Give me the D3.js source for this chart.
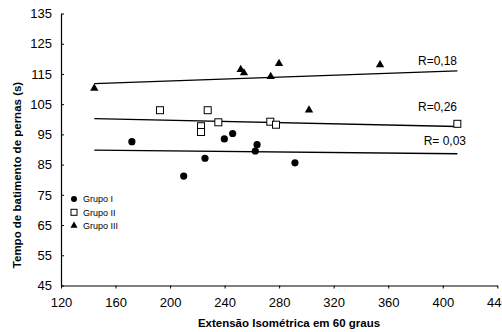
<!DOCTYPE html>
<html>
<head>
<meta charset="utf-8">
<script src="https://cdn.jsdelivr.net/npm/d3@7"></script>
<style>
  html, body { margin: 0; padding: 0; background: #fff; }
  svg text { font-family: Arial, "Liberation Sans", sans-serif; fill: #000; }
</style>
</head>
<body>
<div id="chart"></div>
<script>
// Grupo I (circles)
const grupo1X = [172, 210, 225.6, 239.8, 245.9, 263.8, 262.5, 291.6];
const grupo1Y = [92.6, 81.2, 87.1, 93.5, 95.3, 91.6, 89.5, 85.6];
// Grupo II (squares)
const grupo2X = [192.6, 227.6, 222.7, 222.7, 235.4, 273.5, 277.7, 410.7];
const grupo2Y = [103, 103, 97.7, 95.8, 99, 99.2, 98.2, 98.5];
// Grupo III (triangles)
const grupo3X = [144.4, 251.8, 254.2, 273.8, 279.9, 301.9, 354];
const grupo3Y = [110.4, 116.6, 115.5, 114.3, 118.6, 103.2, 118.2];

// trend lines [x0, y0, x1, y1]
const trend1 = [144.4, 89.8, 410.7, 88.6];
const trend2 = [144.4, 100.2, 410.7, 97.6];
const trend3 = [144.4, 111.8, 410.7, 116.0];
const rLabels = ["R= 0,03", "R=0,26", "R=0,18"];
const rLabelY = [91.6, 102.8, 117.8];

const xTicks = [120, 160, 200, 240, 280, 320, 360, 400, 440];
const yTicks = [45, 55, 65, 75, 85, 95, 105, 115, 125, 135];
const legendNames = ["Grupo I", "Grupo II", "Grupo III"];

const W = 502, H = 332;
const margin = { top: 13.5, right: 5, bottom: 46.5, left: 61 };

const svg = d3.select('#chart').append('svg')
  .attr('width', W).attr('height', H);

const x = d3.scaleLinear().domain([120, 440]).range([margin.left, 497.3]);
const y = d3.scaleLinear().domain([45, 135]).range([H - margin.bottom, margin.top]);

// axes
const xAxis = svg.append('g')
  .attr('transform', `translate(0,${y(45)})`)
  .call(d3.axisBottom(x).tickValues(xTicks).tickSize(3).tickSizeOuter(0).tickPadding(9));
xAxis.select('.domain').attr('stroke', '#000').attr('stroke-width', 1.2);
xAxis.selectAll('text').style('font-size', '13px').attr('fill', '#000');

const yAxis = svg.append('g')
  .attr('transform', `translate(${x(120)},0)`)
  .call(d3.axisLeft(y).tickValues(yTicks).tickSize(-3).tickSizeOuter(0).tickPadding(9));
yAxis.select('.domain').attr('stroke', '#000').attr('stroke-width', 1.2);
yAxis.selectAll('text').style('font-size', '13px').attr('fill', '#000');

// trend lines
[trend1, trend2, trend3].forEach(t => {
  svg.append('line')
    .attr('x1', x(t[0])).attr('y1', y(t[1]))
    .attr('x2', x(t[2])).attr('y2', y(t[3]))
    .attr('stroke', '#000').attr('stroke-width', 1.4);
});

// R labels
svg.selectAll('.rlab').data(rLabels).enter().append('text')
  .attr('class', 'rlab')
  .attr('x', (d, i) => i == 0 ? 466 : 457)
  .attr('y', (d, i) => y(rLabelY[i]))
  .attr('text-anchor', 'end')
  .style('font-size', '12px')
  .text(d => d);

// points
const pts1 = grupo1X.map((v, i) => [v, grupo1Y[i]]);
const pts2 = grupo2X.map((v, i) => [v, grupo2Y[i]]);
const pts3 = grupo3X.map((v, i) => [v, grupo3Y[i]]);

svg.selectAll('.g1').data(pts1).enter().append('circle')
  .attr('cx', d => x(d[0])).attr('cy', d => y(d[1]))
  .attr('r', 3.6).attr('fill', '#000');

svg.selectAll('.g2').data(pts2).enter().append('rect')
  .attr('x', d => x(d[0]) - 3.5).attr('y', d => y(d[1]) - 3.5)
  .attr('width', 7).attr('height', 7)
  .attr('fill', '#fff').attr('stroke', '#000').attr('stroke-width', 1);

const tri = d3.symbol().type(d3.symbolTriangle).size(30);
svg.selectAll('.g3').data(pts3).enter().append('path')
  .attr('d', tri)
  .attr('transform', d => `translate(${x(d[0])},${y(d[1]) + 0.5})`)
  .attr('fill', '#000');

// legend
const legend = svg.append('g').attr('transform', 'translate(74,199)');
legendNames.forEach((name, i) => {
  const g = legend.append('g').attr('transform', `translate(0,${i * 13.3})`);
  if (i == 0) g.append('circle').attr('r', 3).attr('fill', '#000');
  if (i == 1) g.append('rect').attr('x', -3).attr('y', -3).attr('width', 6).attr('height', 6)
    .attr('fill', '#fff').attr('stroke', '#000').attr('stroke-width', 1);
  if (i == 2) g.append('path').attr('d', d3.symbol().type(d3.symbolTriangle).size(22)).attr('fill', '#000');
  g.append('text').attr('x', 9).attr('y', 3.3).style('font-size', '9px').text(name);
});

// axis titles
svg.append('text')
  .attr('x', 289).attr('y', 327)
  .attr('text-anchor', 'middle')
  .style('font-size', '11.5px').style('font-weight', 'bold')
  .text('Extensão Isométrica em 60 graus');

svg.append('text')
  .attr('transform', 'translate(21,175) rotate(-90)')
  .attr('text-anchor', 'middle')
  .style('font-size', '11.5px').style('font-weight', 'bold')
  .text('Tempo de batimento de pernas (s)');
</script>
</body>
</html>
